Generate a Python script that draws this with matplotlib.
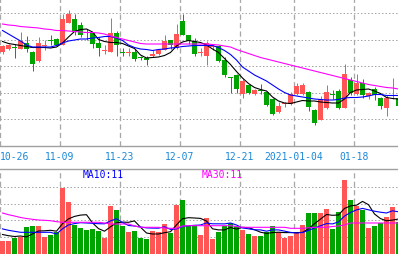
import numpy as np
import matplotlib.pyplot as plt
from matplotlib.transforms import blended_transform_factory

# Daily K-line, 67 trading days, with MA5 / MA10 / MA30 and a volume panel

tick_labels = ['10-26', '11-09', '11-23', '12-07', '12-21', '2021-01-04', '01-18']
tick_days = [0, 10, 20, 30, 40, 49, 59]

opens = [10.95, 11.00, 11.04, 11.00, 11.11, 10.95, 10.75, 11.06, 11.18, 11.20,
         11.08, 11.53, 11.60, 11.48, 11.34, 11.32, 11.12, 10.96, 10.95, 11.32,
         10.94, 10.92, 10.95, 10.84, 10.81, 10.87, 10.90, 10.98, 11.17, 11.01,
         11.57, 11.28, 11.15, 10.92, 10.85, 11.04, 11.05, 10.79, 10.44, 10.48,
         10.11, 10.28, 10.10, 10.18, 10.13, 10.00, 9.73, 9.89, 9.90, 10.10,
         10.10, 10.13, 9.79, 9.59, 9.82, 10.09, 10.15, 9.83, 10.38, 10.10,
         10.31, 10.05, 10.20, 10.02, 9.83, 10.06, 10.02]
highs = [11.08, 11.10, 11.10, 11.34, 11.26, 10.96, 11.24, 11.17, 11.27, 11.22,
         11.70, 11.78, 11.70, 11.54, 11.40, 11.33, 11.23, 11.07, 11.62, 11.35,
         11.03, 11.03, 11.00, 10.87, 10.87, 10.97, 11.00, 11.27, 11.17, 11.50,
         11.70, 11.29, 11.21, 11.03, 11.15, 11.10, 11.07, 10.83, 10.45, 10.50,
         10.40, 10.29, 10.20, 10.30, 10.16, 10.01, 9.93, 9.93, 10.13, 10.32,
         10.32, 10.15, 9.80, 10.05, 10.28, 10.17, 10.19, 10.70, 10.45, 10.50,
         10.40, 10.13, 10.23, 10.03, 10.07, 10.42, 10.08]
lows = [10.90, 10.98, 10.82, 10.99, 10.94, 10.56, 10.73, 10.97, 11.07, 11.06,
        11.07, 11.52, 11.27, 11.24, 11.17, 11.01, 10.87, 10.90, 10.94, 10.87,
        10.85, 10.87, 10.77, 10.79, 10.67, 10.83, 10.88, 10.97, 11.00, 11.00,
        11.27, 11.10, 10.87, 10.87, 10.68, 10.97, 10.73, 10.43, 10.11, 10.11,
        10.02, 10.09, 10.07, 10.10, 9.86, 9.68, 9.72, 9.83, 9.88, 10.07,
        10.08, 9.76, 9.47, 9.57, 9.80, 10.00, 9.80, 9.81, 10.07, 10.07,
        10.01, 9.99, 9.97, 9.80, 9.65, 10.00, 9.86]
closes = [11.05, 11.07, 11.02, 11.15, 11.00, 10.70, 11.12, 11.08, 11.16, 11.07,
          11.60, 11.70, 11.33, 11.28, 11.32, 11.09, 11.02, 10.98, 11.33, 11.07,
          10.92, 10.94, 10.80, 10.82, 10.79, 10.91, 10.98, 11.15, 11.08, 11.29,
          11.28, 11.15, 10.90, 10.94, 11.11, 11.06, 10.75, 10.48, 10.42, 10.20,
          10.37, 10.12, 10.17, 10.16, 9.88, 9.70, 9.87, 9.91, 10.10, 10.25,
          10.28, 9.84, 9.52, 10.00, 10.15, 10.07, 9.83, 10.50, 10.12, 10.32,
          10.07, 10.12, 10.07, 9.87, 10.02, 10.08, 9.87]

ma5 = [11.15, 11.11, 11.09, 11.07, 11.05, 11.03, 11.03, 11.03, 11.02, 11.04,
       11.12, 11.24, 11.35, 11.39, 11.40, 11.34, 11.19, 11.15, 11.13, 11.13,
       11.11, 11.06, 11.01, 10.88, 10.82, 10.83, 10.84, 10.87, 10.93, 11.06,
       11.14, 11.17, 11.15, 11.13, 11.08, 11.00, 10.93, 10.81, 10.69, 10.55,
       10.42, 10.31, 10.23, 10.19, 10.16, 10.04, 9.96, 9.92, 9.91, 9.94,
       9.97, 9.96, 9.96, 9.94, 9.93, 9.92, 9.92, 10.00, 10.13, 10.18,
       10.19, 10.20, 10.16, 10.11, 10.03, 10.01, 10.00]
ma10 = [11.37, 11.30, 11.23, 11.16, 11.08, 11.04, 11.04, 11.04, 11.04, 11.07,
        11.12, 11.16, 11.18, 11.20, 11.20, 11.22, 11.23, 11.25, 11.25, 11.22,
        11.17, 11.08, 11.03, 11.00, 10.99, 10.97, 10.99, 11.00, 11.02, 11.03,
        11.05, 11.06, 11.07, 11.07, 11.07, 11.07, 11.03, 10.97, 10.89, 10.78,
        10.64, 10.56, 10.48, 10.42, 10.36, 10.28, 10.20, 10.13, 10.08, 10.06,
        10.04, 10.02, 10.00, 9.99, 9.98, 9.98, 9.99, 10.02, 10.03, 10.03,
        10.04, 10.06, 10.09, 10.09, 10.07, 10.07, 10.07]
ma30 = [11.50, 11.48, 11.47, 11.45, 11.44, 11.43, 11.42, 11.40, 11.39, 11.37,
        11.37, 11.36, 11.35, 11.34, 11.33, 11.33, 11.32, 11.30, 11.26, 11.23,
        11.20, 11.17, 11.14, 11.11, 11.10, 11.10, 11.10, 11.10, 11.10, 11.10,
        11.10, 11.10, 11.10, 11.10, 11.10, 11.09, 11.08, 11.06, 11.04, 10.99,
        10.95, 10.91, 10.87, 10.83, 10.80, 10.77, 10.74, 10.71, 10.68, 10.65,
        10.62, 10.59, 10.56, 10.53, 10.50, 10.47, 10.44, 10.41, 10.38, 10.35,
        10.32, 10.29, 10.27, 10.25, 10.23, 10.22, 10.20]

# volume in thousands of lots
volumes = [13.3, 13.3, 15.7, 16.7, 26.7, 28.3, 27.7, 16.7, 19.0, 22.3,
           66.0, 51.7, 29.0, 25.7, 24.0, 25.0, 23.3, 16.0, 47.7, 44.0,
           28.3, 22.3, 23.3, 16.0, 15.0, 23.3, 22.3, 30.0, 21.0, 49.0,
           54.0, 27.7, 28.3, 19.0, 36.0, 15.0, 22.3, 28.3, 30.7, 28.3,
           24.0, 20.0, 18.3, 18.3, 22.3, 28.0, 22.3, 16.3, 18.0, 22.3,
           29.0, 40.7, 41.3, 41.3, 45.0, 25.0, 42.3, 74.3, 54.0, 48.3,
           44.0, 26.0, 27.7, 31.0, 37.3, 47.3, 31.7]
vol_ma5 = [19.5, 18.3, 17.5, 18.0, 17.1, 20.1, 23.0, 23.2, 23.7, 22.8,
           30.3, 35.1, 37.6, 38.9, 39.3, 31.1, 25.4, 22.8, 27.2, 31.2,
           31.9, 31.7, 33.1, 26.8, 21.0, 20.0, 20.0, 21.3, 22.3, 29.1,
           35.3, 36.3, 36.0, 35.6, 33.0, 25.2, 24.1, 24.1, 26.5, 24.9,
           26.7, 26.3, 24.3, 21.8, 20.6, 21.4, 21.8, 21.4, 21.4, 21.4,
           21.6, 25.3, 30.3, 34.9, 39.5, 38.7, 39.0, 45.6, 48.1, 48.8,
           52.6, 49.3, 40.0, 35.4, 33.2, 33.9, 35.0]
vol_ma10 = [25.1, 23.7, 22.7, 21.7, 21.7, 21.7, 21.7, 21.7, 21.7, 20.0,
            25.2, 29.1, 30.4, 31.3, 31.0, 30.7, 30.3, 30.2, 33.1, 35.2,
            31.5, 28.5, 28.0, 27.0, 26.1, 25.9, 25.8, 27.2, 24.6, 25.1,
            27.6, 28.2, 28.7, 29.0, 31.1, 30.2, 30.2, 30.1, 31.0, 29.0,
            26.0, 25.2, 24.2, 24.1, 22.8, 24.1, 24.1, 22.9, 21.6, 21.0,
            21.5, 23.6, 25.9, 28.2, 30.4, 30.1, 32.1, 37.9, 41.5, 44.1,
            45.6, 44.2, 42.8, 41.8, 41.0, 43.2, 42.2]
vol_ma30 = [41.0, 39.3, 38.0, 36.5, 35.5, 34.7, 34.0, 33.7, 33.3, 32.3,
            31.7, 31.7, 31.7, 31.7, 31.7, 31.7, 31.7, 31.0, 30.0, 30.0,
            30.0, 30.0, 28.0, 26.7, 26.7, 26.7, 26.7, 26.0, 25.7, 25.7,
            28.0, 28.3, 28.3, 28.3, 28.3, 28.3, 28.3, 28.3, 28.3, 27.5,
            26.7, 26.7, 26.7, 26.7, 26.7, 26.7, 26.7, 26.7, 25.7, 25.7,
            25.7, 26.2, 26.7, 26.7, 26.7, 27.5, 28.0, 29.0, 31.0, 31.0,
            31.0, 31.0, 31.0, 31.0, 31.0, 31.0, 31.0]

RED = '#ff5555'
GREEN = '#00a400'
GRID = '#a8a8a8'
LABEL_BLUE = '#1a88d8'

o = np.array(opens)
c = np.array(closes)
x = np.arange(len(c))
up = c >= o
colors = np.where(up, RED, GREEN)

PX = 1 / 6          # 6 pixels per trading day
LW1 = 0.72          # one pixel in points
shift = 2.5 * PX    # grid lines sit on the left edge of a candle
xlim = (-shift, -shift + 398 * PX)

fig = plt.figure(figsize=(3.98, 2.55), dpi=100)
ax = fig.add_axes([0, 108 / 255, 1, 147 / 255])
axv = fig.add_axes([0, 0, 1, 85 / 255])

grid_x = [d - shift for d in tick_days]

# price panel
ax.vlines(x, lows, highs, colors=colors, lw=LW1, zorder=2)
body_low = np.minimum(o, c)
body_h = np.maximum(np.abs(c - o), 0.02)
ax.bar(x, body_h, bottom=body_low, width=5 * PX, color=colors, lw=0, zorder=2)
ax.plot(x, ma5, color='black', lw=0.8, zorder=3)
ax.plot(x, ma10, color='#0000ff', lw=0.8, zorder=3)
ax.plot(x, ma30, color='#ff00ff', lw=0.8, zorder=3)
ax.set_ylim(9.06, 12.0)
ax.set_yticks([9.59, 10.12, 10.65, 11.18, 11.71])

# volume panel
axv.bar(x, volumes, width=5 * PX, color=colors, lw=0, zorder=2)
axv.plot(x, vol_ma5, color='black', lw=0.8, zorder=3)
axv.plot(x, vol_ma10, color='#0000ff', lw=0.8, zorder=3)
axv.plot(x, vol_ma30, color='#ff00ff', lw=0.8, zorder=3)
axv.set_ylim(0, 85)
axv.set_yticks([16.8, 33.6, 50.4, 67.2])

for a in (ax, axv):
    a.set_xlim(*xlim)
    a.set_xticks(grid_x)
    a.set_axisbelow(True)
    a.xaxis.grid(True, color=GRID, lw=LW1 * 1.3, linestyle=(0, (4, 2.5)))
    a.yaxis.grid(True, color=GRID, lw=LW1, linestyle=(0, (1.5, 2)))
    a.tick_params(length=0, labelleft=False, labelbottom=False)
    for s in a.spines.values():
        s.set_visible(False)

ax.spines['bottom'].set_visible(True)
ax.spines['bottom'].set_color('#a0a0a0')
ax.spines['bottom'].set_linewidth(1.0)
axv.spines['top'].set_visible(True)
axv.spines['top'].set_color('#a0a0a0')
axv.spines['top'].set_linewidth(1.0)

# date labels
trans = blended_transform_factory(ax.transData, fig.transFigure)
for lab, gx in zip(tick_labels, grid_x):
    ha = 'left' if gx <= xlim[0] else 'center'
    ax.text(gx, 0.386, lab, transform=trans, ha=ha, va='center',
            fontsize=7, family='DejaVu Sans Mono', color=LABEL_BLUE, clip_on=False)

fig.text(83 / 398, 0.312, 'MA10:11', ha='left', va='center', fontsize=7,
         family='DejaVu Sans Mono', color='#0000ff')
fig.text(202 / 398, 0.312, 'MA30:11', ha='left', va='center', fontsize=7,
         family='DejaVu Sans Mono', color='#ff00ff')

fig.savefig('out.png', dpi=100)
